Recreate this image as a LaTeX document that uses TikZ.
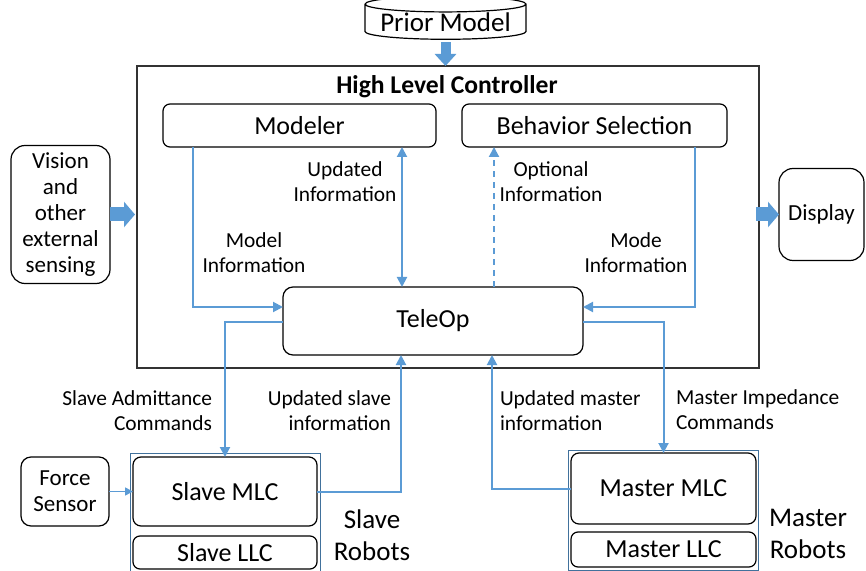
\documentclass[tikz,border=0pt]{standalone}
\usepackage{fontspec}
\setmainfont{Carlito}
\usetikzlibrary{arrows.meta,calc,positioning}
\usetikzlibrary{shapes.geometric}

\definecolor{lineblue}{HTML}{5B9BD5}
\definecolor{grpblue}{HTML}{41719C}

\begin{document}
\begin{tikzpicture}[x=.5pt,y=-.5pt,
every node/.style={inner sep=0pt,outer sep=0pt},
box/.style={draw,rounded corners=3.5pt,line width=.6pt,font=\fontsize{13}{16}\selectfont},
side/.style={draw,rounded corners=7pt,line width=.6pt,align=center,font=\fontsize{11.5}{13}\selectfont},
grp/.style={draw=grpblue,line width=.5pt},
lbl/.style={font=\fontsize{10.7}{12.5}\selectfont},
big/.style={align=center,font=\fontsize{13.5}{16}\selectfont},
conn/.style={draw=lineblue,line width=1pt},
tip/.style={-{Triangle[length=5pt,width=5pt]}},
fat/.style={draw=lineblue,line width=5pt,-{Triangle[length=6pt,width=10.5pt]}},
fatter/.style={draw=lineblue,line width=7pt,-{Triangle[length=5.5pt,width=12.5pt]}}]
\useasboundingbox (0,0) rectangle (866,571);
\node[cylinder,shape border rotate=90,aspect=.12,draw,line width=.6pt,minimum width=80.5pt,minimum height=16pt,font=\fontsize{13.5}{16}\selectfont] (Pri) at (445.5,22) {Prior Model};
\node[draw=black!80,line width=.7pt,minimum width=311pt,minimum height=151pt] (HLC) at (448,217) {};
\node[font=\bfseries\fontsize{12.8}{15}\selectfont] (Ttl) at (447,87) {High Level Controller};
\node[box,minimum width=136.5pt,minimum height=21.5pt] (Mod) at (299.5,125.5) {Modeler};
\node[box,minimum width=132.5pt,minimum height=21.5pt] (Beh) at (594.5,125.5) {Behavior Selection};
\node[box,rounded corners=5pt,minimum width=150pt,minimum height=34pt] (Tel) at (433,321) {TeleOp};
\node[side,minimum width=49.5pt,minimum height=69pt] (Vis) at (60.5,214.5) {Vision\\and\\other\\external\\sensing};
\node[side,minimum width=42.5pt,minimum height=46pt] (Dis) at (821.5,214.5) {Display};
\node[grp,minimum width=95pt,minimum height=61pt] (SGrp) at (225,514) {};
\node[box,rounded corners=4pt,minimum width=92pt,minimum height=34.5pt] (SMLC) at (225,491.5) {Slave MLC};
\node[box,minimum width=92pt,minimum height=16.5pt] (SLLC) at (225,552.5) {Slave LLC};
\node[side,rounded corners=5pt,minimum width=44pt,minimum height=34.5pt] (For) at (65,491.5) {Force\\Sensor};
\node[grp,minimum width=95pt,minimum height=60pt] (MGrp) at (663,510) {};
\node[box,rounded corners=4pt,minimum width=92.5pt,minimum height=35.5pt] (MMLC) at (663.5,488.5) {Master MLC};
\node[box,minimum width=92.5pt,minimum height=17.5pt] (MLLC) at (663.5,549.5) {Master LLC};
\node[lbl,align=center] (UpI) at (345,182) {Updated\\Information};
\node[lbl,align=center] (MoI) at (254,253) {Model\\Information};
\node[lbl,align=center] (OpI) at (551,182) {Optional\\Information};
\node[lbl,align=center] (MdI) at (636,253) {Mode\\Information};
\node[lbl,align=right,anchor=east] (SAC) at (212,411) {Slave Admittance\\Commands};
\node[lbl,align=right,anchor=east] (USI) at (391,411) {Updated slave\\information};
\node[lbl,align=left,anchor=west] (UMI) at (500,411) {Updated master\\information};
\node[lbl,align=left,anchor=west] (MIC) at (676,410) {Master Impedance\\Commands};
\node[big] (SRob) at (372,535) {Slave\\Robots};
\node[big] (MRob) at (808,534) {Master\\Robots};
\draw[fat] ([yshift=-1.5pt]Pri.south) -- (Pri.south |- HLC.north);
\draw[fatter] (Vis.east) -- ([xshift=-1pt]Vis.east -| HLC.west);
\draw[fatter] ([xshift=-1.5pt]Dis.west -| HLC.east) -- (Dis.west);
\draw[conn,tip] ([xshift=15pt]Mod.south west) |- ([yshift=7pt]Tel.west);
\draw[conn,{Triangle[length=5pt,width=5pt]}-{Triangle[length=5pt,width=5pt]}] ([xshift=51.25pt]Mod.south) -- ([xshift=-15.5pt]Tel.north);
\draw[conn,dash pattern=on 3pt off 2.5pt,tip] ([xshift=30.5pt]Tel.north) -- ([xshift=-50.25pt]Beh.south);
\draw[conn,tip] ([xshift=-16pt]Beh.south east) |- ([yshift=7pt]Tel.east);
\draw[conn,tip] ([yshift=-.5pt]Tel.west) -| (SMLC.north);
\draw[conn,tip] (SMLC.east) -| ([xshift=-16pt]Tel.south);
\draw[conn,tip] (MMLC.west) -| ([xshift=29.5pt]Tel.south);
\draw[conn,tip] ([yshift=-.5pt]Tel.east) -| (MMLC.north);
\draw[conn,line width=.8pt,-{Triangle[length=4pt,width=4pt]}] (For.east) -- (SMLC.west);
\end{tikzpicture}
\end{document}
